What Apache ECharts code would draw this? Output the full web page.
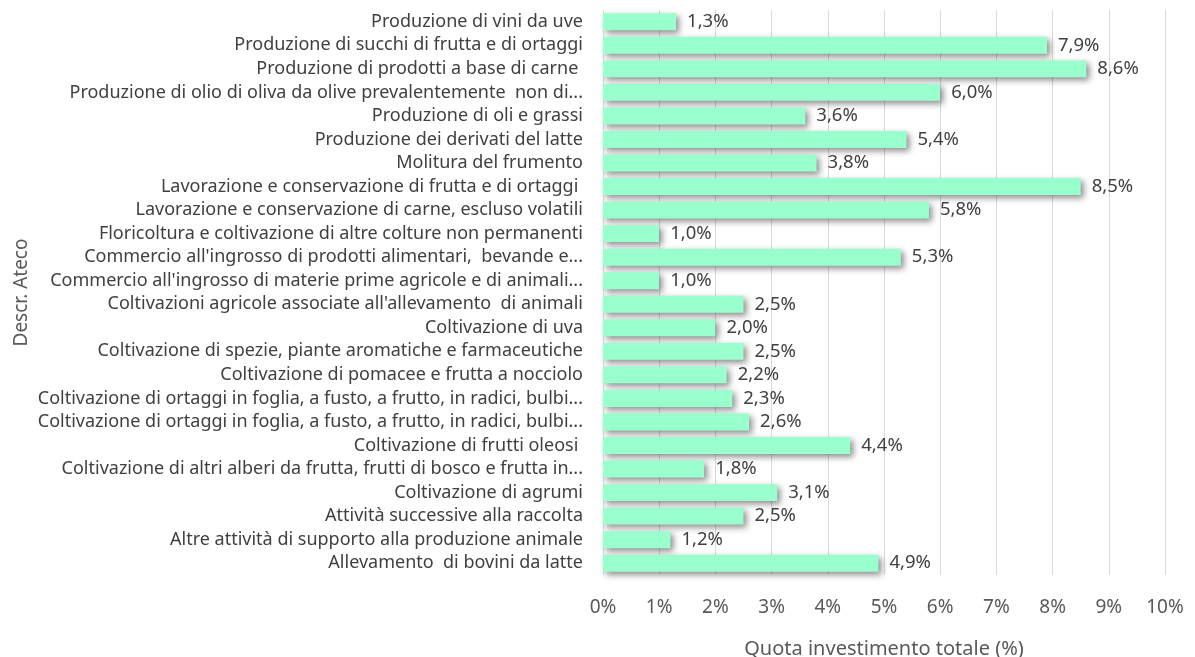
<!DOCTYPE html>
<html>
<head>
<meta charset="utf-8">
<script src="https://cdn.jsdelivr.net/npm/echarts@6/dist/echarts.min.js"></script>
<style>
  html, body { margin: 0; padding: 0; background: #ffffff; }
  #chart { width: 1195px; height: 657px; }
</style>
</head>
<body>
<div id="chart"></div>
<script>
// Economic activity descriptions (top to bottom)
const categories = [
  "Produzione di vini da uve",
  "Produzione di succhi di frutta e di ortaggi",
  "Produzione di prodotti a base di carne ",
  "Produzione di olio di oliva da olive prevalentemente  non di...",
  "Produzione di oli e grassi",
  "Produzione dei derivati del latte",
  "Molitura del frumento",
  "Lavorazione e conservazione di frutta e di ortaggi ",
  "Lavorazione e conservazione di carne, escluso volatili",
  "Floricoltura e coltivazione di altre colture non permanenti",
  "Commercio all'ingrosso di prodotti alimentari,  bevande e...",
  "Commercio all'ingrosso di materie prime agricole e di animali...",
  "Coltivazioni agricole associate all'allevamento  di animali",
  "Coltivazione di uva",
  "Coltivazione di spezie, piante aromatiche e farmaceutiche",
  "Coltivazione di pomacee e frutta a nocciolo",
  "Coltivazione di ortaggi in foglia, a fusto, a frutto, in radici, bulbi...",
  "Coltivazione di ortaggi in foglia, a fusto, a frutto, in radici, bulbi...",
  "Coltivazione di frutti oleosi ",
  "Coltivazione di altri alberi da frutta, frutti di bosco e frutta in...",
  "Coltivazione di agrumi",
  "Attività successive alla raccolta",
  "Altre attività di supporto alla produzione animale",
  "Allevamento  di bovini da latte"
];

// Share of total investment (%)
const quota = [
  1.3, 7.9, 8.6, 6.0, 3.6, 5.4, 3.8, 8.5, 5.8, 1.0, 5.3, 1.0,
  2.5, 2.0, 2.5, 2.2, 2.3, 2.6, 4.4, 1.8, 3.1, 2.5, 1.2, 4.9
];

const xTicks = [0, 1, 2, 3, 4, 5, 6, 7, 8, 9, 10];

const FONT = '"Noto Sans", "Open Sans", sans-serif';
const fmtPct = v => v.toFixed(1).replace('.', ',') + '%';

const chart = echarts.init(document.getElementById('chart'), null, { renderer: 'canvas' });
chart.setOption({
  backgroundColor: '#ffffff',
  animation: false,
  grid: {
    left: 603, right: 30, top: 10, bottom: 82,
    containLabel: false,
    outerBoundsMode: 'none'
  },
  xAxis: {
    type: 'value',
    min: xTicks[0],
    max: xTicks[xTicks.length - 1],
    interval: 1,
    name: 'Quota investimento totale (%)',
    nameLocation: 'middle',
    nameGap: 64,
    nameTextStyle: { fontFamily: FONT, fontSize: 20, color: '#595959' },
    axisLine: { show: false },
    axisTick: { show: false },
    axisLabel: {
      margin: 23,
      fontFamily: FONT, fontSize: 19, color: '#595959',
      formatter: v => v + '%'
    },
    splitLine: { show: true, lineStyle: { color: '#d9d9d9', width: 1 } }
  },
  yAxis: {
    type: 'category',
    data: categories,
    inverse: true,
    name: 'Descr. Ateco',
    nameLocation: 'middle',
    nameGap: 572,
    nameRotate: 90,
    nameTextStyle: { fontFamily: FONT, fontSize: 19, color: '#595959' },
    axisLine: { show: false },
    axisTick: { show: false },
    axisLabel: {
      margin: 20,
      fontFamily: FONT, fontSize: 18, color: '#404040',
      interval: 0
    }
  },
  series: [{
    type: 'bar',
    data: quota,
    barCategoryGap: '28%',
    itemStyle: {
      color: '#99ffcc',
      shadowColor: 'rgba(0,0,0,0.45)',
      shadowBlur: 6,
      shadowOffsetX: 3,
      shadowOffsetY: 3
    },
    label: {
      show: true,
      position: 'right',
      distance: 11,
      fontFamily: FONT, fontSize: 18.5, color: '#404040',
      formatter: p => fmtPct(p.value)
    }
  }]
});
</script>
</body>
</html>
